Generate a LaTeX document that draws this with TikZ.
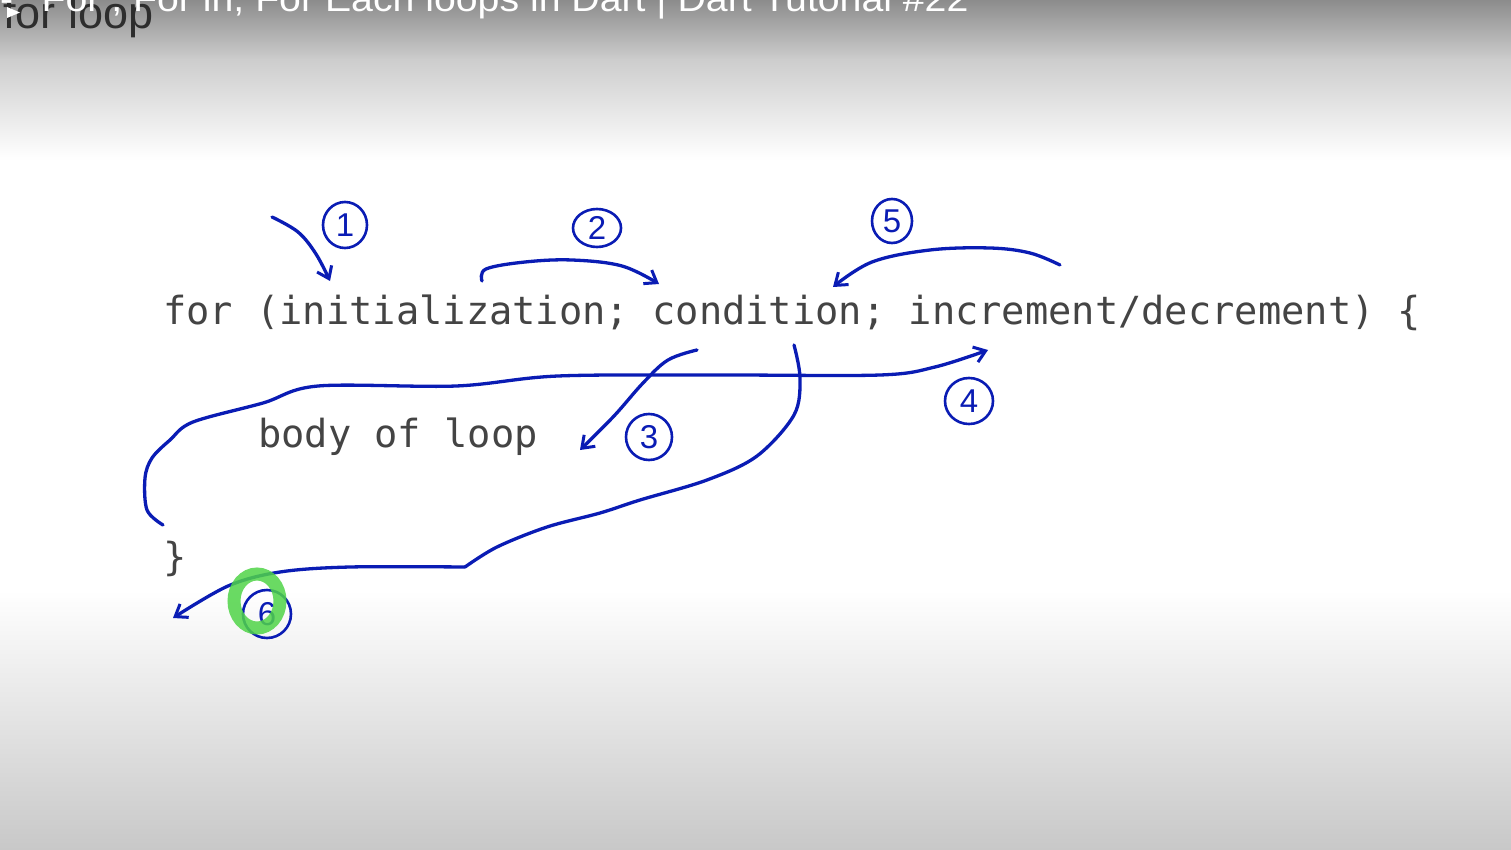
\documentclass[tikz,border=0pt]{standalone}
\usepackage{fontspec}
\setmainfont{Liberation Sans}
\newfontfamily\codefont{DejaVu Sans Mono}
\usetikzlibrary{arrows.meta,shapes.geometric}
\definecolor{ink}{HTML}{0A1CB4}
\definecolor{codegray}{HTML}{444444}
\definecolor{hilite}{HTML}{50D448}
\tikzset{
  handline/.style={draw=ink,line width=3.3pt,line cap=round,line join=round},
  handarrow/.style={handline,-{Straight Barb[length=11pt,width=16pt,line width=3pt]}},
  numcircle/.style={ellipse,draw=ink,line width=2.6pt,text=ink,inner sep=0pt,
     font=\fontsize{33}{33}\selectfont},
  codetext/.style={inner sep=0pt,text=codegray,font=\codefont\fontsize{38.7}{40}\selectfont},
}
\begin{document}
\begin{tikzpicture}[x=1pt,y=-1pt]
\useasboundingbox (0,0) rectangle (1511,850);
% background
\fill[white] (0,0) rectangle (1511,850);
\shade[top color={rgb,255:red,140;green,140;blue,140},bottom color={rgb,255:red,205;green,205;blue,205}] (0,0) rectangle (1511,60);
\shade[top color={rgb,255:red,205;green,205;blue,205},bottom color=white] (0,59.5) rectangle (1511,160);
\shade[top color=white,bottom color={rgb,255:red,200;green,200;blue,200}] (0,590) rectangle (1511,850);
% header
\begin{scope}
\clip (0,0) rectangle (1511,850);
\node[anchor=base west,inner sep=0pt,text={rgb,255:red,45;green,45;blue,45},font=\fontsize{45}{45}\selectfont] (heading) at (3,29) {for loop};
\node[anchor=base west,inner sep=0pt,text=white,font=\fontsize{36}{36}\selectfont] (title) at (0,12) {\scalebox{1.09}[1]{-\hspace{26pt}For , For in, For Each loops in Dart | Dart Tutorial \#22}};
\fill[white] (7,7) -- (20,12.5) -- (7,18) -- cycle;
\end{scope}
% code
\node[codetext,anchor=base west] (code) at (163,324) {for (initialization; condition; increment/decrement) \{};
\node[codetext,anchor=base west] (body) at (258,447) {body of loop};
\node[codetext,anchor=base west] (brace) at (163,570) {\}};
% numbered circles
\node[numcircle,minimum width=44pt,minimum height=46pt] (n1) at (345,225) {1};
\node[numcircle,minimum width=48pt,minimum height=38pt] (n2) at (597,228) {2};
\node[numcircle,minimum width=40pt,minimum height=44pt] (n5) at (892,221) {5};
\node[numcircle,minimum width=46pt,minimum height=46pt] (n3) at (649,437) {3};
\node[numcircle,minimum width=48pt,minimum height=46pt] (n4) at (969,401) {4};
\node[numcircle,minimum width=48pt,minimum height=48pt] (n6) at (267,614) {6};
% arrow endpoints
\coordinate (s1) at (272,217); \coordinate (e1) at (330,281);
\coordinate (s2) at (482,281); \coordinate (e2) at (659,284);
\coordinate (s5) at (1060,265); \coordinate (e5) at (833,287);
\coordinate (s3) at (697,350); \coordinate (e3) at (580,450);
\coordinate (s4) at (163,525); \coordinate (e4) at (988,350);
\coordinate (s6) at (794,345); \coordinate (e6) at (173,618);
\coordinate (k6) at (465,567);
% arrows
\draw[handarrow] plot[smooth,tension=0.6] coordinates {(s1) (298,232) (316,254) (e1)};
\draw[handarrow] plot[smooth,tension=0.6] coordinates {(s2) (486,269) (525,262) (572,260) (622,266) (e2)};
\draw[handarrow] plot[smooth,tension=0.6] coordinates {(s5) (1030,253) (990,248) (930,250) (872,262) (e5)};
\draw[handarrow] plot[smooth,tension=0.6] coordinates {(s3) (668,360) (643,383) (614,416) (e3)};
\draw[handarrow] plot[smooth,tension=0.55] coordinates {(s4) (147,510) (145,478) (152,458) (170,440) (193,422) (263,403) (318,386) (456,386) (558,376) (720,375) (880,375) (935,367) (e4)};
\draw[handline] plot[smooth,tension=0.55] coordinates {(s6) (800,378) (794,415) (757,456) (707,480) (640,500) (600,513) (547,527) (497,547) (k6)};
\draw[handarrow] plot[smooth,tension=0.55] coordinates {(k6) (350,567) (280,572) (228,586) (e6)};
% cursor highlight
\draw[hilite,line width=13pt,opacity=0.85] (257,601) ellipse [x radius=23pt,y radius=27pt];
\end{tikzpicture}
\end{document}
